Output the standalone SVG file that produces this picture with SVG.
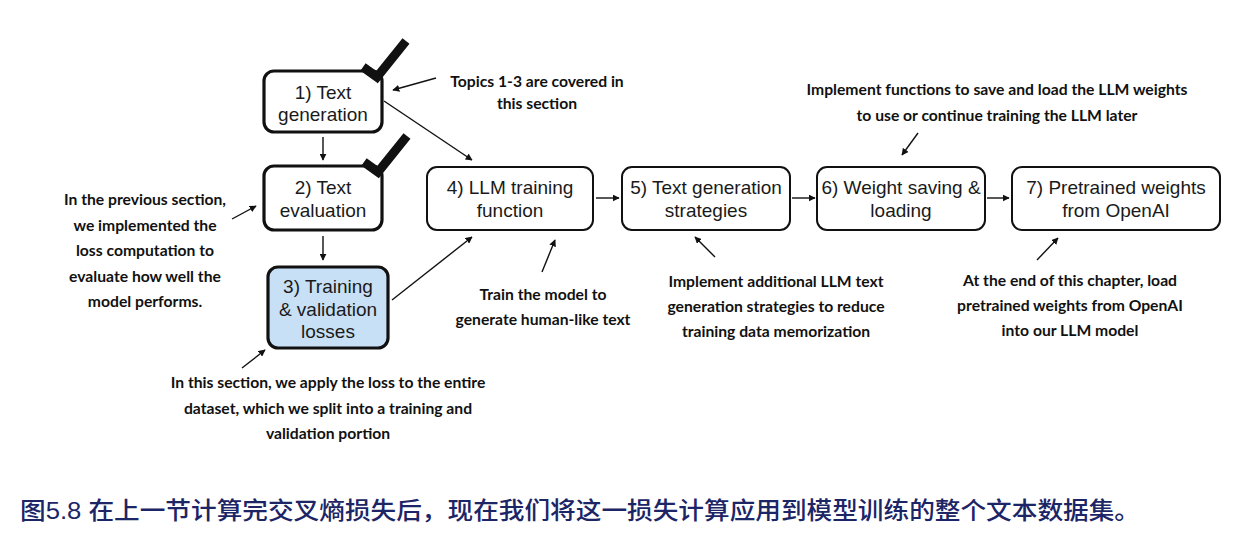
<svg xmlns="http://www.w3.org/2000/svg" width="1234" height="541" viewBox="0 0 1234 541">
<defs>
<marker id="ah" viewBox="0 0 10 10" refX="9" refY="5" markerWidth="7" markerHeight="7" orient="auto" markerUnits="userSpaceOnUse">
<path d="M0,0 L10,5 L0,10 z" fill="#111"/>
</marker>
<style>
.box{fill:#fff;stroke:#111;stroke-width:2}
.thick{stroke-width:3.2}
.blue{fill:#c8e0f6}
.nt{font-family:"Liberation Sans",Arial,sans-serif;font-size:19px;fill:#1a1a1a;text-anchor:middle}
.an{font-family:Lato,"Open Sans",sans-serif;font-weight:bold;font-size:15.7px;fill:#111;text-anchor:middle}
.c{stroke:#111;stroke-width:1.4;fill:none;marker-end:url(#ah)}
.ck{stroke:#111;stroke-width:9;fill:none;stroke-linejoin:miter}
</style>
</defs>
<rect width="1234" height="541" fill="#fff"/>

<g id="connectors">
<line class="c" x1="323" y1="137" x2="323" y2="160"/>
<line class="c" x1="323" y1="236" x2="323" y2="260"/>
<line class="c" x1="384" y1="101" x2="472" y2="160"/>
<line class="c" x1="392" y1="300" x2="472" y2="237"/>
<line class="c" x1="596" y1="198" x2="619" y2="198"/>
<line class="c" x1="792" y1="198" x2="815" y2="198"/>
<line class="c" x1="987" y1="198" x2="1009" y2="198"/>
<line class="c" x1="436" y1="78" x2="393" y2="90"/>
<line class="c" x1="232" y1="219" x2="256" y2="206"/>
<line class="c" x1="242" y1="368" x2="265" y2="350"/>
<line class="c" x1="542" y1="272" x2="555" y2="240"/>
<line class="c" x1="715" y1="257" x2="695" y2="237"/>
<line class="c" x1="918" y1="133" x2="902" y2="155"/>
<line class="c" x1="1037" y1="260" x2="1058" y2="238"/>
</g>

<g id="node1">
<rect class="box thick" x="264" y="71" width="118" height="61" rx="10"/>
<polyline class="ck" points="363,67 377,77 406,41"/>
<text class="nt" x="323" y="99">1) Text</text>
<text class="nt" x="323" y="121">generation</text>
</g>
<g id="node2">
<rect class="box thick" x="264" y="166" width="118" height="64" rx="10"/>
<polyline class="ck" points="364,162 378,172 407,136"/>
<text class="nt" x="323" y="194">2) Text</text>
<text class="nt" x="323" y="217">evaluation</text>
</g>
<g id="node3">
<rect class="box thick blue" x="268" y="267" width="120" height="81" rx="10"/>
<text class="nt" x="328" y="293">3) Training</text>
<text class="nt" x="328" y="316">&amp; validation</text>
<text class="nt" x="328" y="338">losses</text>
</g>
<g id="node4">
<rect class="box" x="427" y="167" width="166" height="63" rx="10"/>
<text class="nt" x="510" y="194">4) LLM training</text>
<text class="nt" x="510" y="217">function</text>
</g>
<g id="node5">
<rect class="box" x="622" y="167" width="168" height="63" rx="10"/>
<text class="nt" x="706" y="194">5) Text generation</text>
<text class="nt" x="706" y="217">strategies</text>
</g>
<g id="node6">
<rect class="box" x="817" y="167" width="168" height="63" rx="10"/>
<text class="nt" x="901" y="194">6) Weight saving &amp;</text>
<text class="nt" x="901" y="217">loading</text>
</g>
<g id="node7">
<rect class="box" x="1012" y="167" width="208" height="63" rx="10"/>
<text class="nt" x="1116" y="194">7) Pretrained weights</text>
<text class="nt" x="1116" y="217">from OpenAI</text>
</g>

<g id="annotations">
<text class="an" x="537" y="87">Topics 1-3 are covered in</text>
<text class="an" x="537" y="109">this section</text>
<text class="an" x="145" y="205">In the previous section,</text>
<text class="an" x="145" y="231">we implemented the</text>
<text class="an" x="145" y="256">loss computation to</text>
<text class="an" x="145" y="282">evaluate how well the</text>
<text class="an" x="145" y="307">model performs.</text>
<text class="an" x="328" y="388">In this section, we apply the loss to the entire</text>
<text class="an" x="328" y="414">dataset, which we split into a training and</text>
<text class="an" x="328" y="439">validation portion</text>
<text class="an" x="543" y="300">Train the model to</text>
<text class="an" x="543" y="325">generate human-like text</text>
<text class="an" x="776" y="287">Implement additional LLM text</text>
<text class="an" x="776" y="312">generation strategies to reduce</text>
<text class="an" x="776" y="337">training data memorization</text>
<text class="an" x="997" y="95">Implement functions to save and load the LLM weights</text>
<text class="an" x="997" y="121">to use or continue training the LLM later</text>
<text class="an" x="1070" y="286">At the end of this chapter, load</text>
<text class="an" x="1070" y="311">pretrained weights from OpenAI</text>
<text class="an" x="1070" y="336">into our LLM model</text>
</g>

<g id="caption">
<text x="20" y="519" textLength="1120" lengthAdjust="spacingAndGlyphs" style="font-family:'Liberation Sans','Noto Sans CJK SC',sans-serif;font-size:24px;font-weight:500;fill:#1c2566">图5.8 在上一节计算完交叉熵损失后，现在我们将这一损失计算应用到模型训练的整个文本数据集。</text>
</g>
</svg>
